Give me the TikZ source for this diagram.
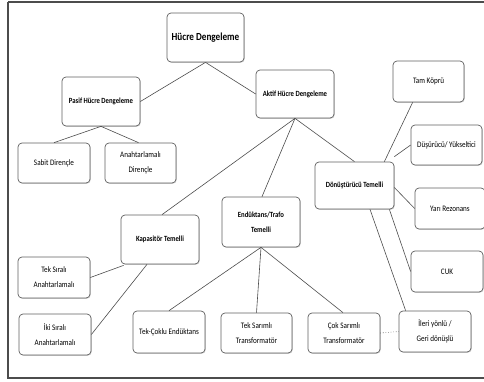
\documentclass[tikz,border=0pt]{standalone}
\usepackage{fontspec}
\setmainfont{Carlito}[FakeStretch=0.85]
\usetikzlibrary{shadows}
\begin{document}
\begin{tikzpicture}[x=1pt,y=-1pt,
  box/.style={draw=gray!75!black, line width=0.7pt, rounded corners=4pt, fill=white,
    align=center, inner sep=1pt, font=\fontsize{8.4}{15}\selectfont,
    drop shadow={shadow xshift=0.8pt, shadow yshift=-0.8pt, opacity=0.35, fill=gray}},
  hbox/.style={box, font=\bfseries\fontsize{7.9}{15}\selectfont},
  sz/.style 2 args={minimum width=#1pt, minimum height=#2pt},
  link/.style={draw=gray!60!black, line width=0.6pt},
  dotlink/.style={link, dotted}]
\useasboundingbox (0,0) rectangle (484,382);
\draw[gray!60!black, line width=1.6pt] (8,2) -- (495,2) (8,2) -- (8,378) -- (495,378);

% nodes
\node[hbox, sz={77}{49}, font=\bfseries\fontsize{10.8}{12}\selectfont] (hucre) at (205.5,37.5) {Hücre Dengeleme};
\node[hbox, sz={78}{49}] (pasif) at (101,101.5) {Pasif Hücre Dengeleme};
\node[box, sz={72}{40}] (sabit) at (54,163) {Sabit Dirençle};
\node[box, sz={71}{40}] (anahdir) at (140.5,163) {Anahtarlamalı\\Dirençle};
\node[hbox, sz={78}{48}] (aktif) at (295,94) {Aktif Hücre Dengeleme};
\node[box, sz={71}{41}] (tam) at (428.5,81.5) {Tam Köprü};
\node[box, sz={71}{40}] (dusur) at (446.5,145) {Düşürücü/ Yükseltici};
\node[hbox, sz={79}{47}] (donus) at (354.5,185.5) {Dönüştürücü Temelli};
\node[box, sz={70}{41}] (yari) at (450,208.5) {Yarı Rezonans};
\node[box, sz={72}{41}] (cuk) at (447,271.5) {CUK};
\node[box, sz={72}{41}] (ileri) at (435,331.5) {İleri yönlü /\\Geri dönüşlü};
\node[box, sz={72}{40}] (cok) at (344,333) {Çok Sarımlı\\Transformatör};
\node[box, sz={71}{40}] (teksar) at (256.5,333) {Tek Sarımlı\\Transformatör};
\node[box, sz={72}{42}] (tekcok) at (169,332) {Tek-Çoklu Endüktans};
\node[hbox, sz={78}{49}] (kapas) at (160,239.5) {Kapasitör Temelli};
\node[hbox, sz={78}{50}] (endtr) at (261,222) {Endüktans/Trafo\\Temelli};
\node[box, sz={72}{41}] (teksira) at (54,277.5) {Tek Sıralı\\Anahtarlamalı};
\node[box, sz={72}{41}] (ikisira) at (55,334.5) {İki Sıralı\\Anahtarlamalı};

% connectors
\draw[link] (hucre.south) -- (pasif.east);
\draw[link] (hucre.south) -- (aktif.west);
\draw[link] (pasif.south) -- (sabit.north);
\draw[link] (pasif.south) -- ([xshift=-2pt]anahdir.north);
\draw[link] (aktif.south) -- ([xshift=2pt]kapas.north);
\draw[link] (aktif.south) -- ([xshift=1pt]endtr.north);
\draw[link] (aktif.south) -- (donus.north);
\draw[link] ([xshift=-10pt]donus.north east) -- ([xshift=20pt]tam.south west);
\draw[link] ([yshift=5pt]donus.north east) -- (dusur.west);
\draw[link] ([yshift=-2pt]donus.east) -- (yari.west);
\draw[link] ([xshift=-5pt]donus.south east) -- (cuk.west);
\draw[link] ([xshift=15.5pt]donus.south) -- ([xshift=7pt]ileri.north west);
\draw[dotlink] (cok.east) -- (ileri.west);
\draw[link] ([xshift=3pt,yshift=-1pt]kapas.south west) -- (teksira.east);
\draw[link] ([xshift=-13pt]kapas.south) -- (ikisira.east);
\draw[link] (endtr.south) -- (tekcok.north);
\draw[link] (endtr.south) -- (teksar.north);
\draw[link] (endtr.south) -- ([xshift=-1pt]cok.north);
\end{tikzpicture}
\end{document}
